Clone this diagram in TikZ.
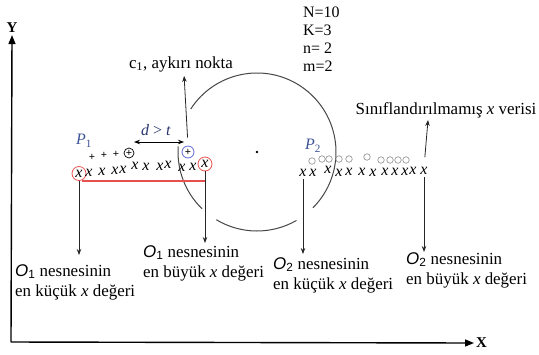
\documentclass[tikz,border=0pt]{standalone}
\usepackage{fontspec}
\setmainfont{Liberation Serif}
\setsansfont{Liberation Sans}
\usetikzlibrary{arrows.meta, positioning}

\definecolor{ringred}{RGB}{232,80,80}
\definecolor{ringblue}{RGB}{96,104,214}
\definecolor{pblue}{RGB}{62,84,150}
\definecolor{dtblue}{RGB}{40,52,110}
\definecolor{circgray}{RGB}{70,70,70}

\newcommand{\Obj}[1]{{\sffamily\itshape O}\textsubscript{\sffamily #1}}
\newcommand{\lblfont}{\fontsize{17}{20.5}\selectfont}

\begin{document}
\begin{tikzpicture}[
    x=1bp, y=-1bp,
    axis/.style={line width=1.4bp, -{Triangle[length=9bp,width=7bp]}},
    axlab/.style={font=\fontsize{15}{15}\selectfont\bfseries, inner sep=2bp},
    pointer/.style={draw=black!85, line width=0.8bp, -{Stealth[length=6bp,width=4.5bp]}},
    lbl/.style={font=\lblfont, align=left, inner sep=0pt, anchor=north west},
    xmark/.style={font=\fontsize{16}{16}\selectfont\itshape, inner sep=0pt},
    plusmark/.style={font=\fontsize{11}{11}\selectfont\bfseries, inner sep=0pt},
    omark/.style={circle, draw=gray!80, line width=0.7bp, minimum size=6.5bp, inner sep=0pt},
    ring/.style={circle, draw=#1, line width=0.8bp, minimum size=14bp, inner sep=0pt},
    pname/.style={font=\fontsize{16}{16}\selectfont, text=pblue, inner sep=0.5bp}
]
\useasboundingbox (0,0) rectangle (539,354);

% axes
\coordinate (orig) at (11,342);
\node[axlab] (ylab) at (12,28) {Y};
\node[axlab, anchor=west] (xlab) at (474,343) {X};
\draw[axis] (orig) -- (ylab.south);
\draw[axis] (orig) -- (xlab.west);

% parameters
\node[lbl, font=\fontsize{16}{18}\selectfont] (params) at (303,7) {N=10\\K=3\\n= 2\\m=2};

% neighbourhood circle (broken where the arrows pass)
\coordinate (ctr) at (257,152);
\fill (ctr) circle (1.3bp);
\draw[circgray, line width=1bp] (ctr) ++(213:79) arc (213:405:79);
\draw[circgray, line width=1bp] (ctr) ++(60:79) arc (60:121:79);
\draw[circgray, line width=1bp] (ctr) ++(134:79) arc (134:184:79);

% object O1
\node[pname] (P1) at (84,141) {\textit{P}\textsubscript{1}};
\node[plusmark] (pl1) at (92,157) {+};
\node[plusmark] (pl2) at (104,155.5) {+};
\node[plusmark] (pl3) at (116,154.5) {+};
\node[plusmark, circle, draw, line width=0.7bp, minimum size=10bp] (pl4) at (129,153) {+};
\node[plusmark, ring=ringblue, minimum size=12bp] (c1) at (188,152) {+};
\node[xmark, ring=ringred] (xmin1) at (79,173.5) {x};
\node[xmark, ring=ringred] (xmax1) at (205,164) {x};
\foreach \px/\py [count=\i] in {89/173, 102/172, 115/171, 123/170, 135/166,
    146/167, 160/167, 168/165, 182/168, 193/167}
  \node[xmark] (p1x\i) at (\px,\py) {x};
\draw[ringred, line width=1.2bp] ([xshift=3bp]xmin1.south) -- (xmin1.south -| xmax1);

% outlier c1 and the distance d > t
\node[font=\fontsize{17}{17}\selectfont, inner sep=2bp] (c1lbl) at (181,64) {c\textsubscript{1}, aykırı nokta};
\draw[pointer, shorten <=8bp, shorten >=2bp] (c1.north) -- ([xshift=3bp]c1lbl.south);
\node[font=\fontsize{16}{16}\selectfont, text=dtblue] (dt) at (156,130) {\textit{d} > \textit{t}};
\coordinate (dL) at (134,142);
\coordinate (dR) at (184,142);
\draw[{Stealth[length=6bp,width=4.5bp]}-{Stealth[length=6bp,width=4.5bp]}, line width=0.8bp] (dL) -- (dR);

% object O2
\node[pname] (P2) at (313,146) {\textit{P}\textsubscript{2}};
\foreach \px/\py [count=\i] in {312/161, 322/159, 329/159, 339/159, 349/159,
    367/157, 381/160, 390/160, 398/160, 406/160}
  \node[omark] (p2o\i) at (\px,\py) {};
\node[xmark] (xmin2) at (303,173) {x};
\node[xmark] (xmax2) at (424,171) {x};
\foreach \px/\py [count=\i] in {313/173, 328/170, 339/173, 349/172, 362/172,
    373/173, 385/172, 395/172, 405/172, 413/171}
  \node[xmark] (p2x\i) at (\px,\py) {x};

% unclassified point
\node[font=\fontsize{17}{17}\selectfont, inner sep=2bp] (unlbl) at (446,110) {Sınıflandırılmamış \textit{x} verisi};
\draw[pointer, shorten <=10bp] (xmax2.north) -- ([xshift=-18bp]unlbl.south);

% min / max labels
\node[lbl] (lblmin1) at (15,264) {\Obj{1} nesnesinin\\en küçük \textit{x} değeri};
\node[lbl] (lblmax1) at (143,245) {\Obj{1} nesnesinin\\en büyük \textit{x} değeri};
\node[lbl] (lblmin2) at (273,257) {\Obj{2} nesnesinin\\en küçük \textit{x} değeri};
\node[lbl] (lblmax2) at (406,252) {\Obj{2} nesnesinin\\en büyük \textit{x} değeri};

\draw[pointer, shorten >=9bp] (xmin1.south) -- (xmin1 |- lblmin1.north);
\draw[pointer, shorten >=2bp] (xmax1.south) -- (xmax1 |- lblmax1.north);
\draw[pointer, shorten <=2bp, shorten >=3bp] (xmin2.south) -- (xmin2 |- lblmin2.north);
\draw[pointer, shorten <=2bp] (xmax2.south) -- (xmax2 |- lblmax2.north);

\end{tikzpicture}
\end{document}
